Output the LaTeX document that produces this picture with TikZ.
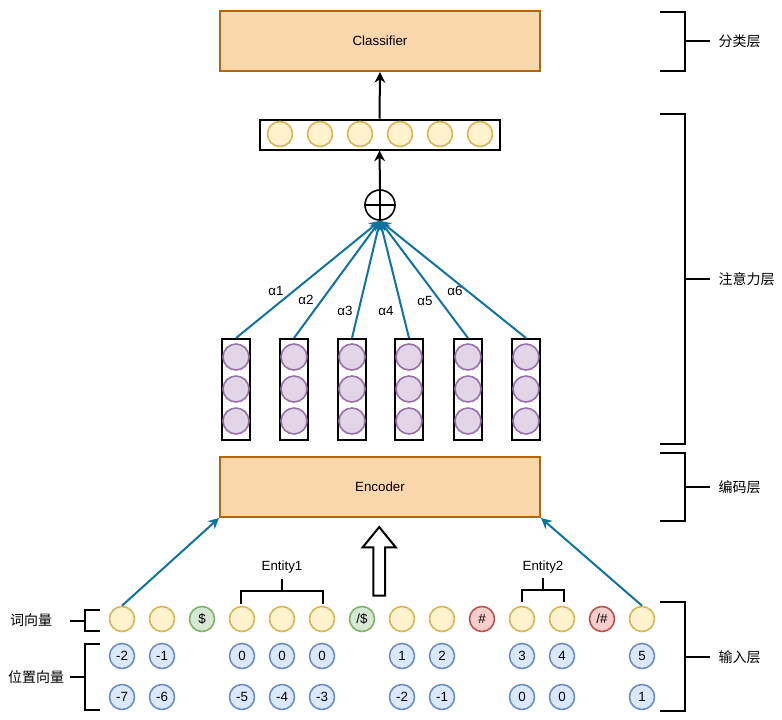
\documentclass[tikz,border=0pt]{standalone}
\usepackage{fontspec}
\setmainfont{Liberation Sans}
\newfontfamily\cjk{Noto Sans CJK SC}
\usepackage{xcolor}
\usetikzlibrary{arrows.meta}

\definecolor{orfill}{HTML}{FAD7AC}
\definecolor{ordraw}{HTML}{B46504}
\definecolor{yel}{HTML}{FFF2CC}
\definecolor{yeledge}{HTML}{D6B656}
\definecolor{pur}{HTML}{E1D5E7}
\definecolor{puredge}{HTML}{9673A6}
\definecolor{blu}{HTML}{DAE8FC}
\definecolor{bluedge}{HTML}{6C8EBF}
\definecolor{grn}{HTML}{D5E8D4}
\definecolor{grnedge}{HTML}{82B366}
\definecolor{red}{HTML}{F8CECC}
\definecolor{rededge}{HTML}{B85450}
\definecolor{attblue}{HTML}{10739E}

\begin{document}
\begin{tikzpicture}[
    x=0.75pt, y=-0.75pt,
    >={Stealth[length=8pt,width=8pt]},
    every node/.style={font=\fontsize{10}{12}\selectfont},
    layer/.style={draw=ordraw, fill=orfill, line width=1.5pt,
                  minimum width=240pt, minimum height=45pt},
    tok/.style={circle, line width=1.2pt, inner sep=0pt, minimum size=18.75pt,
                fill=#1, draw=#1edge},
    tok/.default=yel,
    col/.style={draw, line width=1.5pt, minimum width=21pt, minimum height=75.75pt},
    hid/.style={tok=pur, minimum size=19.5pt},
    arr/.style={->, line width=1.5pt},
    att/.style={->, line width=1.5pt, draw=attblue},
    brk/.style={line width=1.5pt},
    lbl/.style={font=\cjk\fontsize{10.5}{12}\selectfont},
  ]
    \useasboundingbox[fill=white] (0,0) rectangle (782,719);

    % --- Classifier ---
    \node[layer] (cls) at (380,41) {Classifier};

    % --- Attention output vector ---
    \node[draw, line width=1.5pt, minimum width=180pt, minimum height=22.5pt] (vec) at (379.5,134.5) {};
    \node[tok] (v1) at (280,134) {};
    \node[tok] (v2) at (320,134) {};
    \node[tok] (v3) at (360,134) {};
    \node[tok] (v4) at (400,134) {};
    \node[tok] (v5) at (440,134) {};
    \node[tok] (v6) at (480,134) {};

    % --- Weighted sum ---
    \node[circle, draw, line width=1.2pt, minimum size=22.5pt, inner sep=0pt] (sum) at (380,205) {};
    \draw[line width=1.2pt] (sum.north) -- (sum.south) (sum.west) -- (sum.east);

    % --- Hidden states ---
    \node[col] (h1) at (236,389.5) {};
    \node[hid] (h1a) at (236,357) {};
    \node[hid] (h1b) at (236,389) {};
    \node[hid] (h1c) at (236,421) {};
    \node[col] (h2) at (294,389.5) {};
    \node[hid] (h2a) at (294,357) {};
    \node[hid] (h2b) at (294,389) {};
    \node[hid] (h2c) at (294,421) {};
    \node[col] (h3) at (352,389.5) {};
    \node[hid] (h3a) at (352,357) {};
    \node[hid] (h3b) at (352,389) {};
    \node[hid] (h3c) at (352,421) {};
    \node[col] (h4) at (409,389.5) {};
    \node[hid] (h4a) at (409,357) {};
    \node[hid] (h4b) at (409,389) {};
    \node[hid] (h4c) at (409,421) {};
    \node[col] (h5) at (468,389.5) {};
    \node[hid] (h5a) at (468,357) {};
    \node[hid] (h5b) at (468,389) {};
    \node[hid] (h5c) at (468,421) {};
    \node[col] (h6) at (526,389.5) {};
    \node[hid] (h6a) at (526,357) {};
    \node[hid] (h6b) at (526,389) {};
    \node[hid] (h6c) at (526,421) {};

    % --- Attention weights ---
    \node (a1) at (276,291) {α1};
    \node (a2) at (306,300) {α2};
    \node (a3) at (345,311) {α3};
    \node (a4) at (386,311) {α4};
    \node (a5) at (425,301) {α5};
    \node (a6) at (455,291) {α6};

    \draw[att] (h1.north) -- (sum.south);
    \draw[att] (h2.north) -- (sum.south);
    \draw[att] (h3.north) -- (sum.south);
    \draw[att] (h4.north) -- (sum.south);
    \draw[att] (h5.north) -- (sum.south);
    \draw[att] (h6.north) -- (sum.south);
    \draw[arr] (sum.north) -- (vec.south);
    \draw[arr] (vec.north) -- (cls.south);

    % --- Encoder ---
    \node[layer] (enc) at (380,487) {Encoder};
    \draw[line width=1.5pt, fill=white] (373.3,595.7) -- (373.3,547.3) -- (362.7,547.3)
      -- (379.2,527) -- (395.7,547.3) -- (385,547.3) -- (385,595.7) -- cycle;

    % --- Word vectors ---
    \node[tok] (w0)  at (122,619) {};
    \node[tok] (w1)  at (162,619) {};
    \node[tok=grn] (w2)  at (202,619) {\$};
    \node[tok] (w3)  at (242,619) {};
    \node[tok] (w4)  at (282,619) {};
    \node[tok] (w5)  at (322,619) {};
    \node[tok=grn] (w6)  at (362,619) {/\$};
    \node[tok] (w7)  at (402,619) {};
    \node[tok] (w8)  at (442,619) {};
    \node[tok=red] (w9)  at (482,619) {\#};
    \node[tok] (w10) at (522,619) {};
    \node[tok] (w11) at (562,619) {};
    \node[tok=red] (w12) at (602,619) {/\#};
    \node[tok] (w13) at (642,619) {};

    \draw[att] (w0.north)  -- (enc.south west);
    \draw[att] (w13.north) -- (enc.south east);

    % --- Position vectors ---
    \node[tok=blu] (pa0)  at (122,656) {-2};
    \node[tok=blu] (pa1)  at (162,656) {-1};
    \node[tok=blu] (pa3)  at (242,656) {0};
    \node[tok=blu] (pa4)  at (282,656) {0};
    \node[tok=blu] (pa5)  at (322,656) {0};
    \node[tok=blu] (pa7)  at (402,656) {1};
    \node[tok=blu] (pa8)  at (442,656) {2};
    \node[tok=blu] (pa10) at (522,656) {3};
    \node[tok=blu] (pa11) at (562,656) {4};
    \node[tok=blu] (pa13) at (642,656) {5};

    \node[tok=blu] (pb0)  at (122,697) {-7};
    \node[tok=blu] (pb1)  at (162,697) {-6};
    \node[tok=blu] (pb3)  at (242,697) {-5};
    \node[tok=blu] (pb4)  at (282,697) {-4};
    \node[tok=blu] (pb5)  at (322,697) {-3};
    \node[tok=blu] (pb7)  at (402,697) {-2};
    \node[tok=blu] (pb8)  at (442,697) {-1};
    \node[tok=blu] (pb10) at (522,697) {0};
    \node[tok=blu] (pb11) at (562,697) {0};
    \node[tok=blu] (pb13) at (642,697) {1};

    % --- Entity marks ---
    \node (ent1) at (282,567) {Entity1};
    \draw[brk] (241,604) |- (323,591) -- (323,604);
    \draw[brk] (282,591) -- (282,579);
    \node (ent2) at (543,567) {Entity2};
    \draw[brk] (522,602) |- (564,590) -- (564,602);
    \draw[brk] (543,590) -- (543,578);

    % --- Left labels ---
    \node[lbl] (wlab) at (31,620) {词向量};
    \draw[brk] (100,610) -| (85,631) -- (100,631);
    \draw[brk] (85,620.5) -- (70,620.5);
    \node[lbl] (plab) at (36,677) {位置向量};
    \draw[brk] (100,644) -| (85,710) -- (100,710);
    \draw[brk] (85,677) -- (70,677);

    % --- Layer labels ---
    \draw[brk] (660,11.7) -| (685,70.7) -- (660,70.7);
    \draw[brk] (685,41) -- (710,41);
    \node[lbl, anchor=west] (lcls) at (714,41) {分类层};
    \draw[brk] (660,114) -| (685,444) -- (660,444);
    \draw[brk] (685,279) -- (710,279);
    \node[lbl, anchor=west] (latt) at (714,279) {注意力层};
    \draw[brk] (660,452.7) -| (685,520.7) -- (660,520.7);
    \draw[brk] (685,486.7) -- (710,486.7);
    \node[lbl, anchor=west] (lenc) at (714,487) {编码层};
    \draw[brk] (660,602.3) -| (685,710.7) -- (660,710.7);
    \draw[brk] (685,656.7) -- (710,656.7);
    \node[lbl, anchor=west] (linp) at (714,657) {输入层};
\end{tikzpicture}
\end{document}
